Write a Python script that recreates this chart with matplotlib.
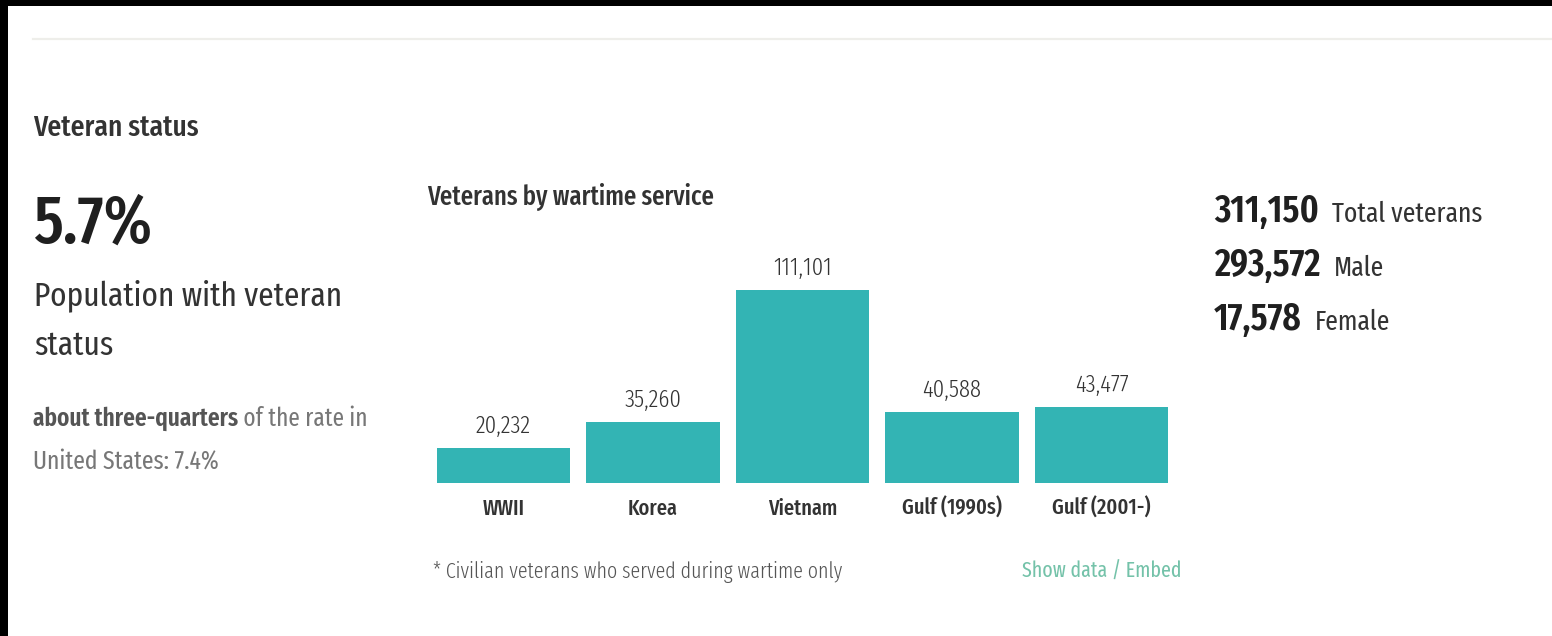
import matplotlib
matplotlib.use("Agg")
import matplotlib.pyplot as plt
from matplotlib.patches import Rectangle
from matplotlib.lines import Line2D

# ---------------- data ----------------
categories = ["WWII", "Korea", "Vietnam", "Gulf (1990s)", "Gulf (2001-)"]
veterans = [20232, 35260, 111101, 40588, 43477]
headline_value = "5.7%"
headline_lines = ["Population with veteran", "status"]
comparison_bold = "about three-quarters"
comparison_rest = " of the rate in"
comparison_line2 = "United States: 7.4%"
summary_values = ["311,150", "293,572", "17,578"]
summary_labels = ["Total veterans", "Male", "Female"]

FONT = ["Fira Sans Extra Condensed", "Roboto Condensed", "DejaVu Sans"]
plt.rcParams["font.family"] = FONT

W, H = 1552, 636
fig = plt.figure(figsize=(W / 100, H / 100), dpi=100)
fig.patch.set_facecolor("white")


def fx(x):
    return x / W


def fy(y):
    return 1 - y / H


def px2pt(p):
    return p * 0.72 * 1.03


# black screenshot borders
fig.patches.append(Rectangle((0, 0), fx(8), 1, transform=fig.transFigure,
                             facecolor="black", edgecolor="none", zorder=0))
fig.patches.append(Rectangle((0, fy(6)), 1, 1 - fy(6), transform=fig.transFigure,
                             facecolor="black", edgecolor="none", zorder=0))
# top divider line
fig.add_artist(Line2D([fx(33), 1], [fy(38.5), fy(38.5)], transform=fig.transFigure,
                      color="#eeeeea", linewidth=1.6))

renderer = fig.canvas.get_renderer()

# ---------------- left column ----------------
fig.text(fx(33), fy(136), "Veteran status", fontsize=px2pt(29), fontweight=500,
         color="#333333", va="baseline", ha="left")
fig.text(fx(33), fy(243), headline_value, fontsize=px2pt(66), fontweight=500,
         color="#1f1f1f", va="baseline", ha="left")
for i, line in enumerate(headline_lines):
    fig.text(fx(34), fy(305 + i * 50), line, fontsize=px2pt(33), fontweight=400,
             color="#333333", va="baseline", ha="left")

t_bold = fig.text(fx(33), fy(426), comparison_bold, fontsize=px2pt(24.5), fontweight=600,
                  color="#555555", va="baseline", ha="left")
bb = t_bold.get_window_extent(renderer=renderer)
fig.text(bb.x1 / W, fy(426), comparison_rest, fontsize=px2pt(24.5), fontweight=400,
         color="#777777", va="baseline", ha="left")
fig.text(fx(33), fy(469), comparison_line2, fontsize=px2pt(25), fontweight=400,
         color="#777777", va="baseline", ha="left")

# ---------------- bar chart ----------------
fig.text(fx(427), fy(205), "Veterans by wartime service", fontsize=px2pt(26),
         fontweight=500, color="#333333", va="baseline", ha="left")

ax_left, ax_right = 428.75, 1176.25
ax_top, ax_bottom = 290, 483
ax = fig.add_axes([fx(ax_left), fy(ax_bottom), (ax_right - ax_left) / W,
                   (ax_bottom - ax_top) / H])
ax.set_facecolor("none")
xs = list(range(len(categories)))
ax.bar(xs, veterans, width=0.896, color="#33b4b4", edgecolor="none")
ax.set_xlim(-0.5, len(categories) - 0.5)
ax.set_ylim(0, max(veterans))
for s in ax.spines.values():
    s.set_visible(False)
ax.set_yticks([])
ax.set_xticks(xs)
ax.set_xticklabels(categories, fontsize=px2pt(21.5), fontweight=500, color="#333333")
ax.tick_params(axis="x", length=0, pad=32 * 0.72)
for lab in ax.get_xticklabels():
    lab.set_va("baseline")
for x, v in zip(xs, veterans):
    ax.annotate(f"{v:,}", (x, v), xytext=(0, 15 * 0.72), textcoords="offset points",
                ha="center", va="baseline", fontsize=px2pt(24), fontweight=300,
                color="#333333", annotation_clip=False)

fig.text(fx(433), fy(578), "* Civilian veterans who served during wartime only",
         fontsize=px2pt(21), fontweight=300, color="#555555", va="baseline", ha="left")
fig.text(fx(1181), fy(578), "Show data / Embed", fontsize=px2pt(21), fontweight=400,
         color="#74c2a9", va="baseline", ha="right")

# ---------------- right column ----------------
for i, (val, lab) in enumerate(zip(summary_values, summary_labels)):
    yb = 222 + i * 54
    tv = fig.text(fx(1214), fy(yb), val, fontsize=px2pt(37), fontweight=600,
                  color="#1f1f1f", va="baseline", ha="left")
    b = tv.get_window_extent(renderer=renderer)
    fig.text((b.x1 + 13) / W, fy(yb), lab, fontsize=px2pt(27), fontweight=400,
             color="#333333", va="baseline", ha="left")

fig.savefig("out.png", dpi=100, facecolor="white")
